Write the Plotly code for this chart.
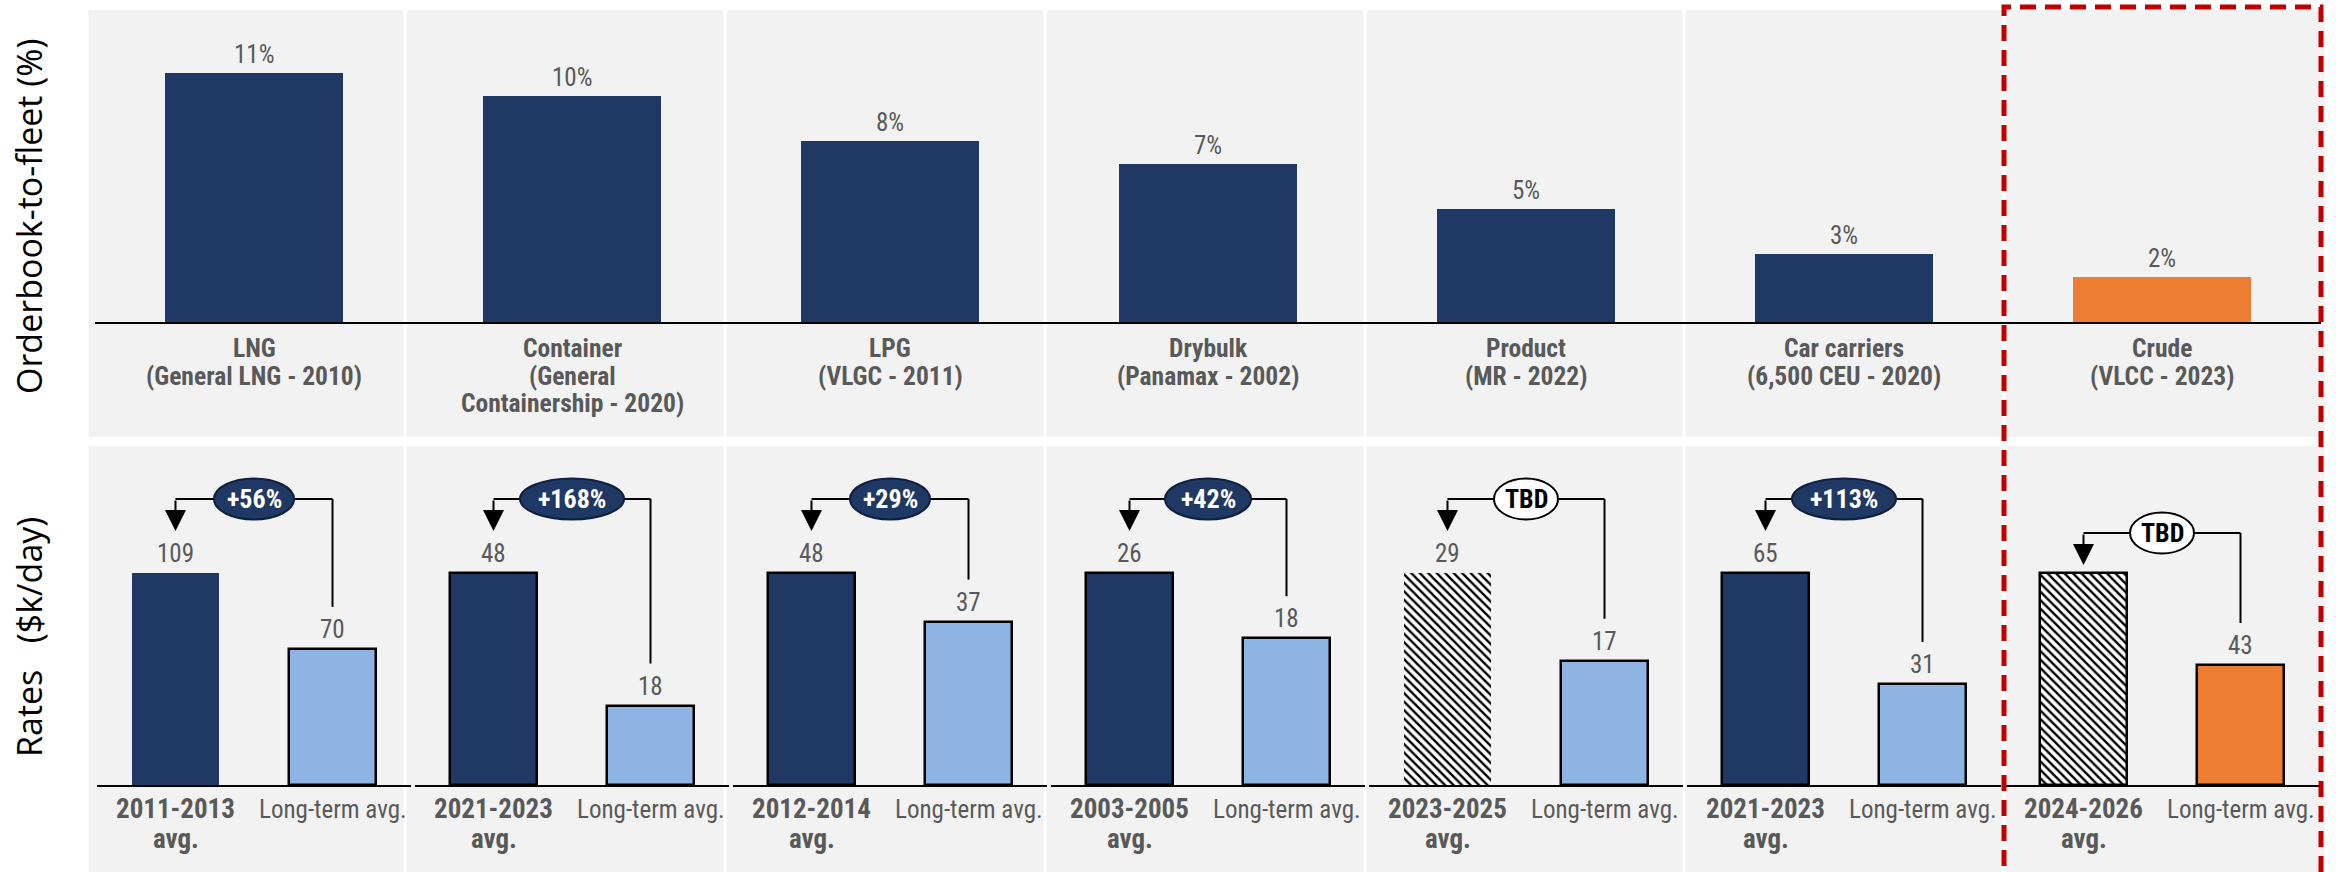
import plotly.graph_objects as go

# ---- data ----
segments = ["LNG", "Container", "LPG", "Drybulk", "Product", "Car carriers", "Crude"]
segment_details = [
    ["(General LNG - 2010)"],
    ["(General", "Containership - 2020)"],
    ["(VLGC - 2011)"],
    ["(Panamax - 2002)"],
    ["(MR - 2022)"],
    ["(6,500 CEU - 2020)"],
    ["(VLCC - 2023)"],
]
orderbook_to_fleet = [11, 10, 8, 7, 5, 3, 2]

peak_periods = ["2011-2013", "2021-2023", "2012-2014", "2003-2005", "2023-2025", "2021-2023", "2024-2026"]
peak_rates = [109, 48, 48, 26, 29, 65, 76]          # $k/day
peak_rate_labels = ["109", "48", "48", "26", "29", "65", ""]
longterm_rates = [70, 18, 37, 18, 17, 31, 43]       # $k/day
uplift_labels = ["+56%", "+168%", "+29%", "+42%", "TBD", "+113%", "TBD"]

# ---- styling ----
W, H = 2336, 872
NAVY = "#203864"
LIGHT = "#8EB4E3"
ORANGE = "#ED7D31"
PANEL = "#F2F2F2"
TXT = "#595959"
RED = "#C00000"
NARROW = "Liberation Sans Narrow, Arial Narrow, Roboto Condensed, DejaVu Sans Condensed, sans-serif"
TITLE_FONT = "Open Sans, DejaVu Sans, sans-serif"

X0, STEP = 95, 318          # left edge of the plotting strip, width of one segment column
TOP_BASE, TOP_TOP = 322, 10
BOT_BASE, BOT_TOP = 785, 446
PEAK_PX = 212               # drawn height of the period-average bar in each lower panel

n = len(segments)
highlight = n - 1


def px(x):
    return x / W


def py(y):
    return 1 - y / H


fig = go.Figure()

# upper chart: orderbook-to-fleet
top_colors = [ORANGE if i == highlight else NAVY for i in range(n)]
fig.add_trace(go.Bar(
    x=list(range(n)), y=orderbook_to_fleet, marker=dict(color=top_colors, line=dict(width=0)),
    width=0.56, xaxis="x", yaxis="y", showlegend=False, hoverinfo="skip",
))
top_range = (TOP_BASE - TOP_TOP) / 22.6

layout = dict(
    width=W, height=H, margin=dict(l=0, r=0, t=0, b=0),
    paper_bgcolor="white", plot_bgcolor="rgba(0,0,0,0)", showlegend=False,
    xaxis=dict(domain=[px(X0), px(X0 + STEP * n)], range=[-0.5, n - 0.5], showline=True,
               linecolor="black", linewidth=2, showgrid=False, zeroline=False,
               showticklabels=False, ticks="", fixedrange=True),
    yaxis=dict(domain=[py(TOP_BASE), py(TOP_TOP)], range=[0, top_range], visible=False,
               fixedrange=True),
)

annotations = []
shapes = []

# grey column panels
edges = [87, 405, 725, 1045, 1365, 1684, 2004, 2326]
for i in range(n):
    for (ya, yb) in [(10, 437), (446, 880)]:
        shapes.append(dict(type="rect", xref="paper", yref="paper", layer="below",
                           x0=px(edges[i] + 1.5), x1=px(edges[i + 1] - 1.5),
                           y0=py(yb), y1=py(ya), fillcolor=PANEL, line=dict(width=0)))

for i, v in enumerate(orderbook_to_fleet):
    annotations.append(dict(x=i, y=v, xref="x", yref="y", text=f"{v}%", showarrow=False,
                            yanchor="bottom", yshift=2, font=dict(family=NARROW, size=25, color=TXT)))
    lines = [segments[i]] + segment_details[i]
    for j, t in enumerate(lines):
        annotations.append(dict(x=i, y=py(348 + 27.5 * j), xref="x", yref="paper",
                                text=f"<b>{t}</b>", showarrow=False, yanchor="middle",
                                font=dict(family=NARROW, size=25.5, color=TXT)))

# lower charts: rate comparison, one mini-panel per segment
for k in range(n):
    ax_id = k + 2
    xa, ya = f"x{ax_id}", f"y{ax_id}"
    peak, lt = peak_rates[k], longterm_rates[k]
    upp = peak / PEAK_PX        # data units per pixel in this panel
    y_max = (BOT_BASE - BOT_TOP) * upp
    projected = uplift_labels[k] == "TBD"

    layout[f"xaxis{ax_id}"] = dict(
        domain=[px(X0 + STEP * k + 2), px(X0 + STEP * (k + 1) - 2)], range=[-0.5, 1.5],
        anchor=ya, showline=True, linecolor="black", linewidth=2, showgrid=False,
        zeroline=False, showticklabels=False, ticks="", fixedrange=True)
    layout[f"yaxis{ax_id}"] = dict(
        domain=[py(BOT_BASE), py(BOT_TOP)], range=[0, y_max], anchor=xa, visible=False,
        fixedrange=True)

    outline_w = 0 if (k == 0 or (projected and k != highlight)) else 2.5
    if projected:
        peak_marker = dict(color="white",
                           pattern=dict(shape="\\", fgcolor="black", bgcolor="white",
                                        size=6, solidity=0.4, fillmode="replace"),
                           line=dict(color="black", width=outline_w))
    else:
        peak_marker = dict(color=NAVY, line=dict(color="black", width=outline_w))
    fig.add_trace(go.Bar(x=[0], y=[peak], width=0.56, marker=peak_marker,
                         xaxis=xa, yaxis=ya, hoverinfo="skip"))
    lt_color = ORANGE if k == highlight else LIGHT
    fig.add_trace(go.Bar(x=[1], y=[lt], width=0.56,
                         marker=dict(color=lt_color, line=dict(color="black", width=2.5)),
                         xaxis=xa, yaxis=ya, hoverinfo="skip"))

    # value labels
    if peak_rate_labels[k]:
        annotations.append(dict(x=0, y=peak, xref=xa, yref=ya, text=peak_rate_labels[k],
                                showarrow=False, yanchor="bottom", yshift=3,
                                font=dict(family=NARROW, size=25, color=TXT)))
    annotations.append(dict(x=1, y=lt, xref=xa, yref=ya, text=str(lt), showarrow=False,
                            yanchor="bottom", yshift=3,
                            font=dict(family=NARROW, size=25, color=TXT)))

    # category labels under each mini-panel
    annotations.append(dict(x=0, y=py(809), xref=xa, yref="paper", text=f"<b>{peak_periods[k]}</b>",
                            showarrow=False, yanchor="middle",
                            font=dict(family=NARROW, size=27, color=TXT)))
    annotations.append(dict(x=0, y=py(839), xref=xa, yref="paper", text="<b>avg.</b>",
                            showarrow=False, yanchor="middle",
                            font=dict(family=NARROW, size=27, color=TXT)))
    annotations.append(dict(x=1, y=py(809), xref=xa, yref="paper", text="Long-term avg.",
                            showarrow=False, yanchor="middle",
                            font=dict(family=NARROW, size=25, color=TXT)))

    # uplift bracket: from long-term bar up, across, and down onto the period bar
    bracket_px = 252 if k == highlight else 286
    y_br = bracket_px * upp
    y_tip = (bracket_px - 32) * upp
    y_end = lt + 42 * upp
    shapes.append(dict(type="line", xref=xa, yref=ya, x0=0, x1=1, y0=y_br, y1=y_br,
                       line=dict(color="black", width=2)))
    shapes.append(dict(type="line", xref=xa, yref=ya, x0=1, x1=1, y0=y_end, y1=y_br,
                       line=dict(color="black", width=2)))
    annotations.append(dict(x=0, y=y_tip, xref=xa, yref=ya, ax=0, ay=y_br, axref=xa, ayref=ya,
                            text="", showarrow=True, arrowhead=2, arrowsize=2.1,
                            arrowwidth=2, arrowcolor="black", standoff=0))

    label = uplift_labels[k]
    if projected:
        ell_w = 64
    elif label == "+42%":
        ell_w = 86
    elif len(label) <= 4:
        ell_w = 80
    else:
        ell_w = 104
    fill, edge, tcol = ("white", "black", "black") if projected else (NAVY, "#0F1F3D", "white")
    shapes.append(dict(type="circle", xref=xa, yref=ya, xsizemode="pixel", ysizemode="pixel",
                       xanchor=0.5, yanchor=y_br, x0=-ell_w / 2, x1=ell_w / 2, y0=-20.5, y1=20.5,
                       fillcolor=fill, line=dict(color=edge, width=2)))
    annotations.append(dict(x=0.5, y=y_br, xref=xa, yref=ya, text=f"<b>{label}</b>",
                            showarrow=False, font=dict(family=NARROW, size=26, color=tcol)))

# axis titles
annotations.append(dict(x=px(29), y=py(217), xref="paper", yref="paper", text="Orderbook-to-fleet (%)",
                        textangle=-90, showarrow=False, xanchor="center", yanchor="middle",
                        font=dict(family=TITLE_FONT, size=34, color="black")))
annotations.append(dict(x=px(29), y=py(637), xref="paper", yref="paper",
                        text="Rates\u00a0\u00a0\u00a0($k/day)",
                        textangle=-90, showarrow=False, xanchor="center", yanchor="middle",
                        font=dict(family=TITLE_FONT, size=34, color="black")))

# dashed highlight box around the crude column
shapes.append(dict(type="rect", xref="paper", yref="paper",
                   x0=px(2004), x1=px(2321), y0=py(880), y1=py(7),
                   line=dict(color=RED, width=5, dash="16px,9px"), fillcolor="rgba(0,0,0,0)"))

layout["annotations"] = annotations
layout["shapes"] = shapes
layout["bargap"] = 0
fig.update_layout(**layout)

fig.write_html("out.html")
